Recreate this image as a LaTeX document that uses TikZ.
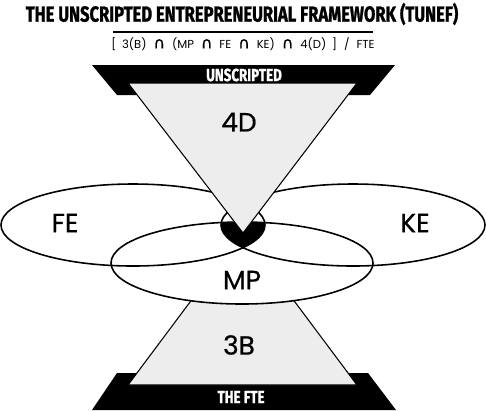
\documentclass[tikz,border=0pt]{standalone}
\usepackage{fontspec}
\setmainfont{Poppins}
\newfontfamily\headfont[FakeStretch=0.76, FakeBold=1.2]{Fira Sans}
\newfontfamily\labelfont[FakeBold=0.6]{Poppins}
\newfontfamily\symfont[FakeBold=1]{DejaVu Sans}
\usepackage{xcolor}
\definecolor{panel}{HTML}{EDEDEE}
\usepackage{tikz}
\newcommand\capsym{\hspace{0.6em}{\symfont\fontsize{9}{9}\selectfont ∩}\hspace{0.6em}}
\tikzset{
  headtext/.style={font=\headfont\bfseries\fontsize{12.4}{13}\selectfont, inner sep=0pt},
  bandtext/.style={font=\headfont\bfseries\fontsize{10}{11}\selectfont, text=white, inner sep=0pt},
  setlabel/.style={font=\labelfont\fontsize{15}{16}\selectfont, inner sep=0pt},
  ring/.style={line width=0.9pt},
}

\begin{document}
\begin{tikzpicture}[x=0.02cm, y=-0.02cm]
  \useasboundingbox (0,0) rectangle (486,410);

  % heading
  \node[headtext] (title) at (242,14) {THE UNSCRIPTED ENTREPRENEURIAL FRAMEWORK (TUNEF)};
  \coordinate (ulleft) at (113,32);
  \coordinate (ulright) at (373,32);
  \draw[line width=1.1pt] (ulleft) -- (ulright);
  \node[font=\fontsize{6.6}{7}\selectfont, inner sep=0pt] (formula) at (243,44)
       {[\hspace{0.5em}3(B)\capsym(MP\capsym FE\capsym KE)\capsym 4(D)\hspace{0.5em}]\hspace{0.6em}/\hspace{0.6em}FTE};

  % black bands
  \fill (92,65) -- (395,65) -- (370,95) -- (117,95) -- cycle;
  \fill (117,373) -- (368,373) -- (396,410) -- (92,410) -- cycle;
  \node[bandtext] (unscripted) at (244,75) {UNSCRIPTED};

  % lower trapezoid
  \filldraw[fill=panel, line width=0.6pt] (128,385) -- (199,290) -- (286,290) -- (357,385) -- cycle;
  \node[bandtext] (fte) at (241,397) {THE FTE};

  % the three sets
  \fill[white] (242,263) ellipse [x radius=131, y radius=41];
  \begin{scope}
    \clip (133,225) ellipse [x radius=132, y radius=41];
    \clip (353,225) ellipse [x radius=132, y radius=41];
    \fill (242,263) ellipse [x radius=131, y radius=41];
  \end{scope}
  \draw[ring] (133,225) ellipse [x radius=132, y radius=41];
  \draw[ring] (353,225) ellipse [x radius=132, y radius=41];
  \draw[ring] (242,263) ellipse [x radius=131, y radius=41];

  % upper triangle
  \filldraw[fill=panel, line width=0.6pt] (128,83) -- (357,83) -- (243,233) -- cycle;

  % labels
  \node[setlabel] (dlabel) at (239,122) {4D};
  \node[setlabel] (felabel) at (65,223) {FE};
  \node[setlabel] (kelabel) at (415,223) {KE};
  \node[setlabel] (mplabel) at (242,280) {MP};
  \node[setlabel] (blabel) at (239,345) {3B};
\end{tikzpicture}
\end{document}
